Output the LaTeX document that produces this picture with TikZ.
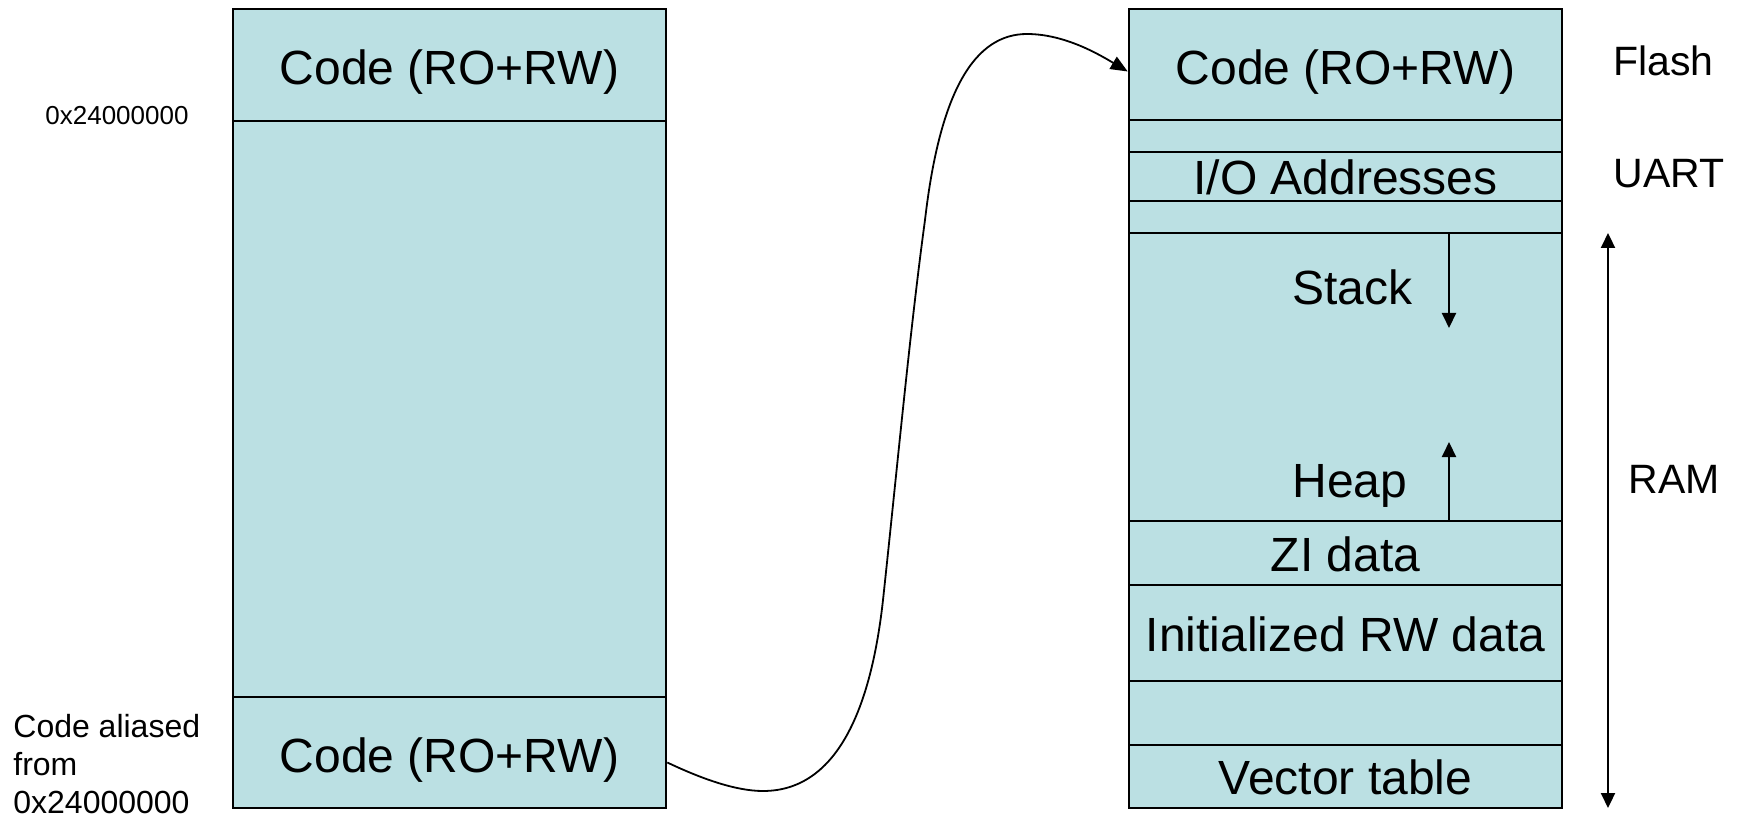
\documentclass[tikz,border=0pt]{standalone}
\usepackage{fontspec}
\setmainfont{Liberation Sans}
\usetikzlibrary{arrows.meta}
\definecolor{memfill}{RGB}{187,224,227}
\begin{document}
\begin{tikzpicture}[x=0.5pt,y=-0.5pt,
  cell/.style={draw=black, line width=1.3pt, fill=memfill, minimum width=216.5pt,
    inner sep=0pt, text height=18pt, text depth=0pt, font=\fontsize{24}{28}\selectfont},
  blankcell/.style={cell, text height=0pt},
  celltext/.style={anchor=base west, inner sep=0pt, font=\fontsize{24}{28}\selectfont},
  sidetext/.style={anchor=base west, inner sep=0pt, font=\fontsize{20.5}{24}\selectfont},
  growarrow/.style={-{Triangle[length=7.5pt,width=7pt]}, line width=1pt},
]
\useasboundingbox (0,0) rectangle (1741,818);

% memory map as seen from the core (left)
\node[cell, minimum height=56pt, text height=20pt] (lcode) at (449.5,65) {Code (RO+RW)};
\node[blankcell, minimum height=288pt] (lmid) at (449.5,409) {};
\node[cell, minimum height=55.5pt, text height=20pt] (lcode2) at (449.5,752.5) {Code (RO+RW)};

% physical memory map (right)
\node[cell, minimum height=55.5pt, text height=20pt] (rcode) at (1345.5,64.5) {Code (RO+RW)};
\node[blankcell, minimum height=16pt] (rgap1) at (1345.5,136) {};
\node[cell, minimum height=24.5pt] (rio) at (1345.5,176.5) {I/O Addresses};
\node[blankcell, minimum height=16pt] (rgap2) at (1345.5,217) {};
\node[blankcell, minimum height=144pt] (rsh) at (1345.5,377) {};
\node[cell, minimum height=32pt] (rzi) at (1345.5,553) {ZI data};
\node[cell, minimum height=48pt] (rrw) at (1345.5,633) {Initialized RW data};
\node[blankcell, minimum height=32pt] (rgap3) at (1345.5,713) {};
\node[cell, minimum height=31.5pt] (rvec) at (1345.5,776.5) {Vector table};

% stack and heap growth
\node[celltext] (stack) at (1292,305) {Stack};
\node[celltext] (heap) at (1292,497) {Heap};
\coordinate (stktop) at (1449,233);
\coordinate (stkend) at (1449,328);
\coordinate (hpbot) at (1449,521);
\coordinate (hpend) at (1449,442);
\draw[growarrow] (stktop) -- (stkend);
\draw[growarrow] (hpbot) -- (hpend);

% region names
\node[sidetext] (flash) at (1613,76) {Flash};
\node[sidetext] (uart) at (1613,188) {UART};
\node[sidetext] (ram) at (1628,493) {RAM};
\coordinate (ramtop) at (1608,233);
\coordinate (rambot) at (1608,808);
\draw[{Triangle[length=7.5pt,width=7pt]}-{Triangle[length=7.5pt,width=7pt]}, line width=1.1pt]
  (ramtop) -- (rambot);

% addresses on the left
\node[anchor=base west, inner sep=0pt, font=\fontsize{13}{15}\selectfont] (addr) at (45,125) {0x24000000};
\node[anchor=south west, inner sep=0pt, align=left, font=\fontsize{16}{19}\selectfont]
  (alias) at (13,814) {Code aliased\\from\\0x24000000};

% aliasing link
\draw[line width=0.9pt, -{Triangle[length=8.5pt,width=7pt]}]
  ([yshift=-5pt]lcode2.east) .. controls (700,778) and (735,791) .. (763,791)
  .. controls (845,791) and (873,690) .. (883,600)
  .. controls (897,470) and (910,330) .. (925,220)
  .. controls (940,90) and (975,34) .. (1027,34)
  .. controls (1065,34) and (1100,55) .. ([yshift=-3.5pt]rcode.west);
\end{tikzpicture}
\end{document}
